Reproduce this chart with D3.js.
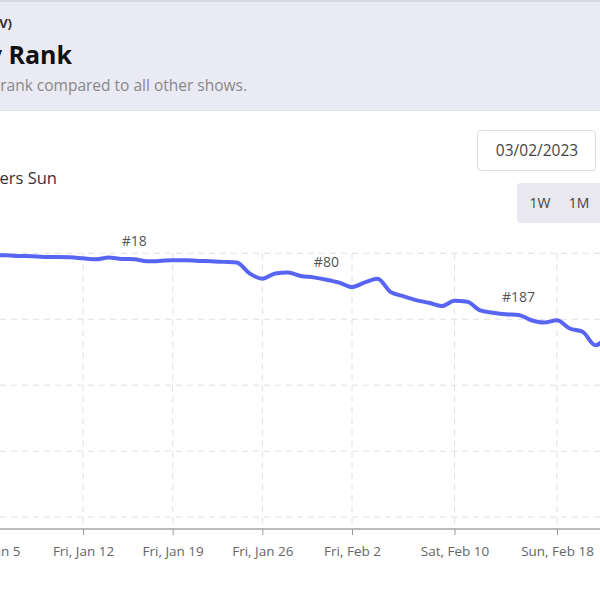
<!DOCTYPE html>
<html><head><meta charset="utf-8">
<script src="https://cdn.jsdelivr.net/npm/d3@7"></script>
<style>
body{margin:0;background:#fff;}
svg{display:block;font-family:"Open Sans",sans-serif;}
</style>
</head><body>
<svg id="c" width="600" height="600"></svg>
<script>
// ---- data ----
const dates = ["2024-01-04","2024-01-05","2024-01-06","2024-01-07","2024-01-08","2024-01-09","2024-01-10","2024-01-11",
"2024-01-12","2024-01-13","2024-01-14","2024-01-15","2024-01-16","2024-01-17","2024-01-18","2024-01-19",
"2024-01-20","2024-01-21","2024-01-22","2024-01-23","2024-01-24","2024-01-25","2024-01-26","2024-01-27",
"2024-01-28","2024-01-29","2024-01-30","2024-01-31","2024-02-01","2024-02-02","2024-02-03","2024-02-04",
"2024-02-05","2024-02-06","2024-02-07","2024-02-08","2024-02-09","2024-02-10","2024-02-11","2024-02-12",
"2024-02-13","2024-02-14","2024-02-15","2024-02-16","2024-02-17","2024-02-18","2024-02-19","2024-02-20",
"2024-02-21","2024-02-22"];
const ranks = [6,6,6,8,9,11,11,12,
15,18,13,17,18,24,23,21,
21,23,24,26,28,61,77,61,
58,69,73,80,89,102,88,77,
117,130,142,150,160,144,147,173,
180,185,187,203,210,203,228,238,
279,248];
const labelDates = ["2024-01-16","2024-01-31","2024-02-15"];
const xTickDates = ["2024-01-05","2024-01-12","2024-01-19","2024-01-26","2024-02-02","2024-02-10","2024-02-18"];
const yTicks = [0,200,400,600,800];
const showName = "The Show (TV)";
const chartTitle = "Daily Rank";
const subtitle = "The show's daily rank compared to all other shows.";
const seriesTitle = "Airs Others Sun";
const pickedDate = "03/02/2023";
const rangeButtons = ["1W","1M","3M"];

// ---- scales ----
const parse = d3.utcParse("%Y-%m-%d");
const fmt = d3.utcFormat("%a, %b %-d");
const x = d3.scaleUtc().domain([parse("2024-01-12"), parse("2024-02-18")]).range([83, 557]);
const y = d3.scaleLinear().domain([0, 836]).range([253.3, 529]);
const plotTop = 253.3, plotBottom = 529;

const svg = d3.select("#c");

// header panel
svg.append("rect").attr("x",0).attr("y",0).attr("width",600).attr("height",110).attr("fill","#eaeaf4");
svg.append("line").attr("x1",0).attr("x2",600).attr("y1",1).attr("y2",1).attr("stroke","#cfcfd6").attr("stroke-width",1.5);
svg.append("line").attr("x1",0).attr("x2",600).attr("y1",110.5).attr("y2",110.5).attr("stroke","#e2e2ea");
svg.append("text").attr("x",12).attr("y",28).attr("text-anchor","end").attr("font-size",13).attr("font-weight",700).attr("fill","#333").text(showName);
svg.append("text").attr("x",72).attr("y",64).attr("text-anchor","end").attr("font-size",25).attr("font-weight",700).attr("fill","#111").text(chartTitle);
svg.append("text").attr("x",247).attr("y",91).attr("text-anchor","end").attr("font-size",15.5).attr("fill","#888").text(subtitle);

// series title
svg.append("text").attr("x",57).attr("y",184).attr("text-anchor","end").attr("font-size",16.5).attr("font-weight",500).attr("fill","#333").text(seriesTitle);

// date box
svg.append("rect").attr("x",477.5).attr("y",130.5).attr("width",118).attr("height",40).attr("rx",3).attr("fill","#fff").attr("stroke","#dcdcdc");
svg.append("text").attr("x",537).attr("y",156).attr("text-anchor","middle").attr("font-size",15.5).attr("fill","#444").text(pickedDate);

// range buttons
svg.append("rect").attr("x",517).attr("y",183).attr("width",100).attr("height",40).attr("rx",4).attr("fill","#e8e8ee");
svg.selectAll("text.btn").data(rangeButtons).join("text").attr("class","btn")
  .attr("x",(d,i)=>540+i*39).attr("y",208).attr("text-anchor","middle").attr("font-size",14).attr("fill","#444").text(d=>d);

// grid
const g = svg.append("g");
g.selectAll("line.h").data(yTicks).join("line").attr("class","h")
  .attr("x1",0).attr("x2",600).attr("y1",d=>y(d)).attr("y2",d=>y(d))
  .attr("stroke","#e0e0e0").attr("stroke-dasharray","6 5");
g.selectAll("line.v").data(xTickDates).join("line").attr("class","v")
  .attr("x1",d=>x(parse(d))).attr("x2",d=>x(parse(d))).attr("y1",plotTop).attr("y2",plotBottom)
  .attr("stroke","#e0e0e0").attr("stroke-dasharray","6 5");

// x axis
const xAxis = d3.axisBottom(x).tickValues(xTickDates.map(parse)).tickFormat(fmt).tickSize(6).tickSizeOuter(0);
const ax = svg.append("g").attr("transform",`translate(0,${plotBottom})`).call(xAxis);
ax.select(".domain").remove();
ax.append("line").attr("x1",0).attr("x2",600).attr("stroke","#a5a5a5").attr("stroke-width",1.5);
ax.selectAll(".tick line").attr("stroke","#999");
ax.selectAll(".tick text").attr("font-family","'Open Sans',sans-serif").attr("font-size",13.5).attr("fill","#666").attr("dy","1.35em");

// line
const data = dates.map((d,i)=>({date:parse(d), rank:ranks[i]}));
const line = d3.line().x(d=>x(d.date)).y(d=>y(d.rank)).curve(d3.curveMonotoneX);
svg.append("path").datum(data).attr("d",line).attr("fill","none").attr("stroke","#5865f2").attr("stroke-width",4).attr("stroke-linejoin","round").attr("stroke-linecap","round");

// point labels
const lab = data.filter(d=>labelDates.includes(d3.utcFormat("%Y-%m-%d")(d.date)));
svg.selectAll("text.pl").data(lab).join("text").attr("class","pl")
  .attr("x",d=>x(d.date)).attr("y",d=>y(d.rank)-13).attr("text-anchor","middle")
  .attr("font-size",14).attr("fill","#555").text(d=>"#"+d.rank);
</script>
</body></html>
